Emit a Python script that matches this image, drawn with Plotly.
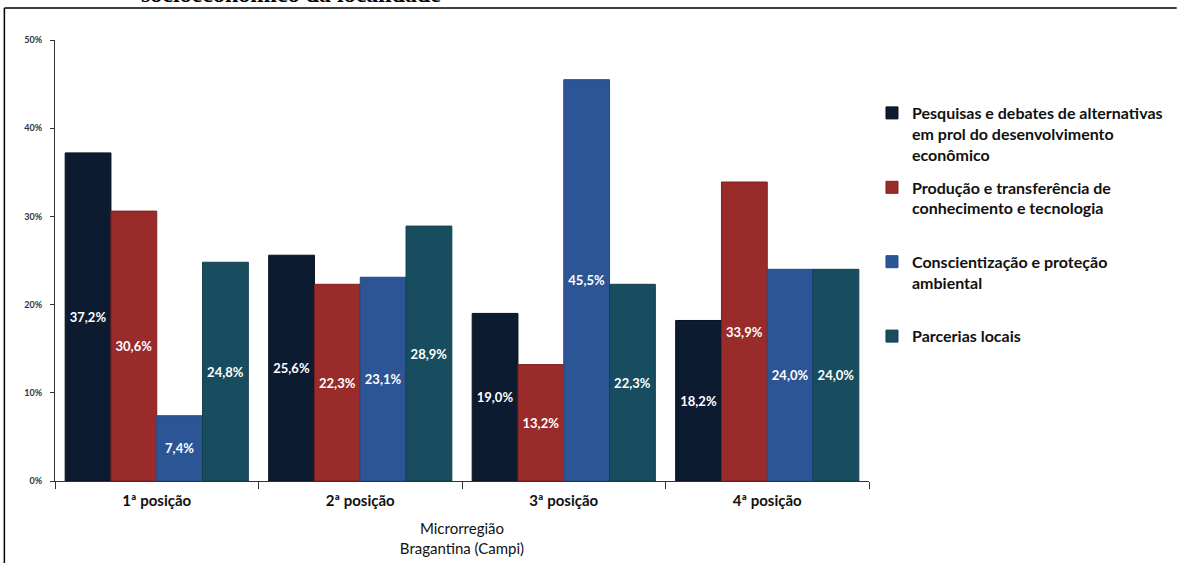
import plotly.graph_objects as go

categories = ["1ª posição", "2ª posição", "3ª posição", "4ª posição"]
series_names = [
    "Pesquisas e debates de alternativas<br>em prol do desenvolvimento<br>econômico",
    "Produção e transferência de<br>conhecimento e tecnologia<br> ",
    "Conscientização e proteção<br>ambiental<br> ",
    "Parcerias locais",
]
pesquisas = [37.2, 25.6, 19.0, 18.2]
producao = [30.6, 22.3, 13.2, 33.9]
conscientizacao = [7.4, 23.1, 45.5, 24.0]
parcerias = [24.8, 28.9, 22.3, 24.0]
colors = ["#0d1b31", "#9a2b2b", "#2c5596", "#174d5f"]
edge_colors = ["#08121f", "#7f1f1f", "#244a85", "#113e4d"]
y_ticks = [0, 10, 20, 30, 40, 50]
y_tick_labels = ["0%", "10%", "20%", "30%", "40%", "50%"]

fig = go.Figure()
for name, vals, c, ec in zip(series_names, [pesquisas, producao, conscientizacao, parcerias], colors, edge_colors):
    fig.add_trace(go.Bar(
        x=categories, y=vals, name=name,
        marker=dict(color=c, line=dict(color=ec, width=1)),
        texttemplate="%{y:.1f}%", textposition="inside", insidetextanchor="middle",
        textangle=0,
        textfont=dict(family="Lato", size=13, color="white", weight="bold"),
        legendgroup=name,
    ))

L, R, T, B = 55, 305, 40, 82
W, H = 1180, 563
pw, ph = W - L - R, H - T - B

def px_x(p):
    return (p - L) / pw

def px_y(p):
    return (H - B - p) / ph

fig.update_layout(
    width=W, height=H,
    margin=dict(l=L, r=R, t=T, b=B),
    paper_bgcolor="white", plot_bgcolor="white",
    barmode="group", bargap=0.1, bargroupgap=0,
    separators=",.",
    font=dict(family="Lato", color="#222"),
    showlegend=True,
    legend=dict(
        x=px_x(878), y=px_y(96), xanchor="left", yanchor="top",
        font=dict(family="Lato", size=16, color="#111", weight="bold"),
        valign="top", tracegroupgap=9,
        itemwidth=30,
    ),
    xaxis=dict(
        automargin=False,
        showline=True, linecolor="#333", linewidth=1,
        ticks="outside", tickson="boundaries", ticklen=7, tickcolor="#333",
        tickfont=dict(family="Lato", size=15, color="#111", weight="bold"),
        ticklabelstandoff=6,
        title=dict(text="Microrregião<br>Bragantina (Campi)", standoff=15,
                   font=dict(family="Lato", size=15, color="#111")),
    ),
    yaxis=dict(
        automargin=False,
        range=[0, 50], tickvals=y_ticks, ticktext=y_tick_labels,
        showline=True, linecolor="#333", linewidth=1,
        ticks="outside", ticklen=4, tickcolor="#333",
        showgrid=False, zeroline=False,
        tickfont=dict(family="Lato", size=9, color="#333", weight="bold"),
        ticklabelstandoff=6,
    ),
    shapes=[
        dict(type="line", xref="paper", yref="paper", x0=px_x(4), x1=px_x(1185),
             y0=px_y(8), y1=px_y(8), line=dict(color="black", width=1.5)),
        dict(type="line", xref="paper", yref="paper", x0=px_x(4), x1=px_x(4),
             y0=px_y(8), y1=px_y(570), line=dict(color="black", width=1.5)),
    ],
    annotations=[
        dict(text="<b>socioeconômico da localidade</b>", xref="paper", yref="paper",
             x=px_x(140), y=px_y(-6), xanchor="left", yanchor="middle", showarrow=False,
             font=dict(family="Liberation Serif", size=24, color="black")),
    ],
)

fig.write_html("out.html")
